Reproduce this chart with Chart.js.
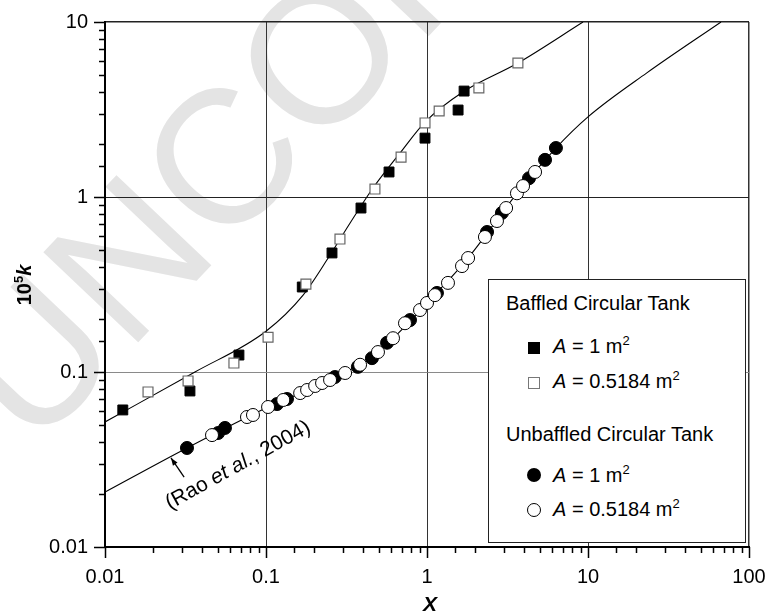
<!DOCTYPE html>
<html>
<head>
<meta charset="utf-8">
<script src="https://cdn.jsdelivr.net/npm/chart.js@4.4.1/dist/chart.umd.min.js"></script>
<style>
  body { margin: 0; background: #fff; }
  #wrap { position: relative; width: 768px; height: 613px; }
  #legend {
    position: absolute; left: 488px; top: 279px; width: 258px; height: 264px;
    box-sizing: border-box; border: 1.5px solid #222; background: #fff;
    font-family: 'Liberation Sans', Arial, Helvetica, sans-serif; font-size: 20px; color: #000;
  }
  #legend div { position: absolute; line-height: 20px; white-space: nowrap; }
  #legend sup { font-size: 13px; vertical-align: 8px; line-height: 0; }
  .mk { position: absolute; box-sizing: border-box; }
</style>
</head>
<body>
<div id="wrap">
  <canvas id="chart" width="768" height="613"></canvas>
  <div id="legend">
    <div style="left:17px; top:13px;">Baffled Circular Tank</div>
    <span class="mk" style="left:39px; top:62px; width:12px; height:12px; background:#000;"></span>
    <div style="left:64px; top:56px;"><i>A</i> = 1 m<sup>2</sup></div>
    <span class="mk" style="left:39px; top:97px; width:12px; height:12px; border:1px solid #777; background:#fff;"></span>
    <div style="left:64px; top:91px;"><i>A</i> = 0.5184 m<sup>2</sup></div>
    <div style="left:17px; top:144px;">Unbaffled Circular Tank</div>
    <span class="mk" style="left:38px; top:188px; width:14px; height:14px; border-radius:50%; background:#000;"></span>
    <div style="left:64px; top:185px;"><i>A</i> = 1 m<sup>2</sup></div>
    <span class="mk" style="left:38px; top:223px; width:14px; height:14px; border-radius:50%; border:1px solid #000; background:#fff;"></span>
    <div style="left:64px; top:219px;"><i>A</i> = 0.5184 m<sup>2</sup></div>
  </div>
</div>
<script>
// axis ranges
const xRange = [0.01, 100];
const yRange = [0.01, 10];

// baffled circular tank
const baffledFilledX = [0.0129, 0.0337, 0.0679, 0.168, 0.257, 0.389, 0.581, 0.972, 1.56, 1.70];
const baffledFilledY = [0.0607, 0.0779, 0.125, 0.306, 0.479, 0.865, 1.39, 2.17, 3.14, 4.03];
const baffledOpenX = [0.0185, 0.0328, 0.0632, 0.103, 0.177, 0.288, 0.475, 0.690, 0.972, 1.19, 2.10, 3.67];
const baffledOpenY = [0.0769, 0.0889, 0.1125, 0.158, 0.318, 0.575, 1.11, 1.69, 2.65, 3.10, 4.20, 5.83];

// unbaffled circular tank
const unbaffledFilledX = [0.0323, 0.0504, 0.0556, 0.117, 0.135, 0.268, 0.372, 0.455, 0.565, 0.784, 1.153, 2.36, 2.92, 4.30, 5.41, 6.32];
const unbaffledFilledY = [0.0368, 0.0448, 0.0479, 0.0656, 0.0701, 0.0936, 0.107, 0.120, 0.147, 0.198, 0.283, 0.631, 0.811, 1.28, 1.63, 1.905];
const unbaffledOpenX = [0.0462, 0.0762, 0.0830, 0.103, 0.128, 0.163, 0.180, 0.202, 0.223, 0.250, 0.310, 0.384, 0.496, 0.615, 0.730, 0.905, 1.0, 1.12, 1.35, 1.65, 1.80, 2.29, 2.72, 3.10, 3.62, 3.95, 4.69];
const unbaffledOpenY = [0.0436, 0.0553, 0.0568, 0.0631, 0.0692, 0.0758, 0.0789, 0.0832, 0.0865, 0.090, 0.0987, 0.110, 0.130, 0.156, 0.190, 0.226, 0.248, 0.275, 0.323, 0.403, 0.448, 0.591, 0.729, 0.865, 1.05, 1.155, 1.39];

// fitted curves
const baffledCurveX = [0.01, 0.0362, 0.1, 0.170, 0.250, 0.333, 0.462, 0.679, 0.972, 1.67, 3.67, 9.31];
const baffledCurveY = [0.0518, 0.1, 0.171, 0.275, 0.466, 0.710, 1.125, 1.78, 2.68, 3.98, 5.83, 10];
const unbaffledCurveX = [0.01, 0.0323, 0.103, 0.310, 0.615, 1.0, 1.80, 3.62, 6.32, 10.0, 23.2, 67.0];
const unbaffledCurveY = [0.0206, 0.0368, 0.0631, 0.0987, 0.156, 0.248, 0.448, 1.05, 1.905, 2.87, 5.12, 10];

// (Rao et al., 2004) note: arrow tip, arrow tail, text start, in data units
const raoArrowTip = [0.0257, 0.0323];
const raoArrowTail = [0.0310, 0.0251];
const raoTextAt = [0.0253, 0.0163];

const FONT = "'Liberation Sans', Arial, Helvetica, sans-serif";

function pts(xs, ys) {
  return xs.map((x, i) => ({ x: x, y: ys[i] }));
}

function isDecade(v) {
  const l = Math.log10(v);
  return Math.abs(l - Math.round(l)) < 1e-6;
}

// grey watermark behind the plot
const watermark = {
  id: 'watermark',
  beforeDraw(chart) {
    const ctx = chart.ctx;
    ctx.save();
    ctx.translate(33, 453);
    ctx.rotate(-46.5 * Math.PI / 180);
    ctx.font = '190px ' + FONT;
    ctx.fillStyle = '#e4e4e4';
    ctx.textBaseline = 'alphabetic';
    ctx.fillText('UNCORRECTED', 0, 0);
    ctx.restore();
  }
};

// outward tick marks, long at decades and short between
const tickMarks = {
  id: 'tickMarks',
  afterDraw(chart) {
    const ctx = chart.ctx;
    const xs = chart.scales.x, ys = chart.scales.y;
    const area = chart.chartArea;
    ctx.save();
    ctx.strokeStyle = '#000';
    ctx.lineWidth = 1.5;
    ctx.beginPath();
    xs.ticks.forEach(t => {
      const px = Math.round(xs.getPixelForValue(t.value)) + 0.5;
      ctx.moveTo(px, area.bottom);
      ctx.lineTo(px, area.bottom + (isDecade(t.value) ? 11 : 6));
    });
    ys.ticks.forEach(t => {
      const py = Math.round(ys.getPixelForValue(t.value)) + 0.5;
      ctx.moveTo(area.left, py);
      ctx.lineTo(area.left - (isDecade(t.value) ? 11 : 6), py);
    });
    ctx.stroke();
    ctx.restore();
  }
};

// axis titles and the Rao note
const labels = {
  id: 'labels',
  afterDraw(chart) {
    const ctx = chart.ctx;
    const xs = chart.scales.x, ys = chart.scales.y;
    ctx.save();
    ctx.fillStyle = '#000';
    ctx.textBaseline = 'alphabetic';

    // x title
    ctx.font = 'italic bold 21px ' + FONT;
    ctx.textAlign = 'center';
    ctx.fillText('X', 430, 611);

    // y title 10^5 k
    ctx.save();
    ctx.translate(31, 285);
    ctx.rotate(-Math.PI / 2);
    ctx.textAlign = 'left';
    const parts = [
      { t: '10', f: 'bold 20px ' + FONT, dy: 0 },
      { t: '5', f: 'bold 13px ' + FONT, dy: -8 },
      { t: 'k', f: 'italic bold 20px ' + FONT, dy: 0 }
    ];
    let w = 0;
    parts.forEach(p => { ctx.font = p.f; w += ctx.measureText(p.t).width; });
    let x = -w / 2;
    parts.forEach(p => { ctx.font = p.f; ctx.fillText(p.t, x, p.dy); x += ctx.measureText(p.t).width; });
    ctx.restore();

    // arrow
    const tx = xs.getPixelForValue(raoArrowTip[0]), ty = ys.getPixelForValue(raoArrowTip[1]);
    const sx = xs.getPixelForValue(raoArrowTail[0]), sy = ys.getPixelForValue(raoArrowTail[1]);
    ctx.strokeStyle = '#000';
    ctx.lineWidth = 1.3;
    ctx.beginPath();
    ctx.moveTo(sx, sy);
    ctx.lineTo(tx, ty);
    ctx.stroke();
    const ang = Math.atan2(ty - sy, tx - sx);
    ctx.beginPath();
    ctx.moveTo(tx, ty);
    ctx.lineTo(tx - 8 * Math.cos(ang - 0.35), ty - 8 * Math.sin(ang - 0.35));
    ctx.lineTo(tx - 8 * Math.cos(ang + 0.35), ty - 8 * Math.sin(ang + 0.35));
    ctx.closePath();
    ctx.fill();

    // rotated note
    ctx.save();
    ctx.translate(xs.getPixelForValue(raoTextAt[0]), ys.getPixelForValue(raoTextAt[1]));
    ctx.rotate(-29 * Math.PI / 180);
    ctx.textAlign = 'left';
    const note = [
      { t: '(Rao ', f: '21px ' + FONT },
      { t: 'et al.', f: 'italic 21px ' + FONT },
      { t: ', 2004)', f: '21px ' + FONT }
    ];
    let nx = 0;
    note.forEach(p => { ctx.font = p.f; ctx.fillText(p.t, nx, 0); nx += ctx.measureText(p.t).width; });
    ctx.restore();

    ctx.restore();
  }
};

const ctx = document.getElementById('chart').getContext('2d');

new Chart(ctx, {
  type: 'scatter',
  data: {
    datasets: [
      {
        label: 'Baffled fit',
        data: pts(baffledCurveX, baffledCurveY),
        showLine: true, pointRadius: 0, borderColor: '#000', borderWidth: 1.1,
        cubicInterpolationMode: 'monotone', order: 10
      },
      {
        label: 'Unbaffled fit (Rao et al., 2004)',
        data: pts(unbaffledCurveX, unbaffledCurveY),
        showLine: true, pointRadius: 0, borderColor: '#000', borderWidth: 1.1,
        cubicInterpolationMode: 'monotone', order: 10
      },
      {
        label: 'Baffled, A = 1 m2',
        data: pts(baffledFilledX, baffledFilledY),
        pointStyle: 'rect', pointRadius: 7, backgroundColor: '#000', borderColor: '#000', borderWidth: 1, order: 2
      },
      {
        label: 'Baffled, A = 0.5184 m2',
        data: pts(baffledOpenX, baffledOpenY),
        pointStyle: 'rect', pointRadius: 7, backgroundColor: '#fff', borderColor: '#666', borderWidth: 1.2, order: 1
      },
      {
        label: 'Unbaffled, A = 1 m2',
        data: pts(unbaffledFilledX, unbaffledFilledY),
        pointStyle: 'circle', pointRadius: 6.5, backgroundColor: '#000', borderColor: '#000', borderWidth: 1, order: 2
      },
      {
        label: 'Unbaffled, A = 0.5184 m2',
        data: pts(unbaffledOpenX, unbaffledOpenY),
        pointStyle: 'circle', pointRadius: 6.5, backgroundColor: '#fff', borderColor: '#000', borderWidth: 1, order: 1
      }
    ]
  },
  options: {
    responsive: false,
    animation: false,
    layout: { padding: { top: 22, right: 19, left: 0, bottom: 0 } },
    plugins: { legend: { display: false }, tooltip: { enabled: false } },
    elements: { point: { hoverRadius: 0 } },
    scales: {
      x: {
        type: 'logarithmic', min: xRange[0], max: xRange[1],
        afterFit(s) { s.height = 66; s.paddingLeft = 0; s.paddingRight = 0; },
        border: { display: true, color: '#000', width: 2 },
        grid: {
          drawTicks: false,
          color: c => (c.tick && isDecade(c.tick.value)) ? '#333' : 'rgba(0,0,0,0)',
          lineWidth: c => (c.tick && c.tick.value >= 100) ? 1.5 : 1
        },
        ticks: {
          autoSkip: false, maxRotation: 0, padding: 18, color: '#000',
          font: { family: FONT, size: 20 },
          callback: v => isDecade(v) ? String(+v.toPrecision(1)) : ''
        }
      },
      y: {
        type: 'logarithmic', min: yRange[0], max: yRange[1],
        afterFit(s) { s.width = 105; s.paddingTop = 0; s.paddingBottom = 0; },
        border: { display: true, color: '#000', width: 2 },
        grid: {
          drawTicks: false,
          color: c => {
            if (!c.tick || !isDecade(c.tick.value)) return 'rgba(0,0,0,0)';
            return Math.abs(c.tick.value - 0.1) < 1e-9 ? '#8a8a8a' : '#222';
          },
          lineWidth: c => (c.tick && c.tick.value >= 10) ? 1.5 : 1
        },
        ticks: {
          autoSkip: false, padding: 17, color: '#000',
          font: { family: FONT, size: 20 },
          callback: v => isDecade(v) ? String(+v.toPrecision(1)) : ''
        }
      }
    }
  },
  plugins: [watermark, tickMarks, labels]
});
</script>
</body>
</html>
